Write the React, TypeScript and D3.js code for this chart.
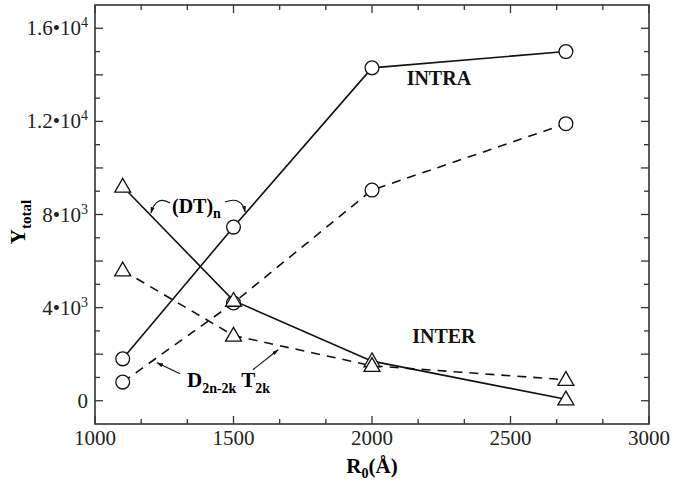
import React, { useEffect, useRef } from 'react'
import * as d3 from 'd3'

// R0 values (Å)
const r0 = [1100, 1500, 2000, 2700]
// INTRA, (DT)n  -> solid line, circles
const intraDT = [1800, 7460, 14300, 15000]
// INTRA, D2n-2k T2k -> dashed line, circles
const intraDT2k = [800, 4200, 9050, 11900]
// INTER, (DT)n -> solid line, triangles
const interDT = [9200, 4300, 1700, 60]
// INTER, D2n-2k T2k -> dashed line, triangles
const interDT2k = [5600, 2800, 1500, 900]

const xTicks = [1000, 1500, 2000, 2500, 3000]
const yTickLabels = [0, 4000, 8000, 12000, 16000]

const W = 673
const H = 484
const FONT = "'Liberation Serif', 'Times New Roman', serif"

const App = () => {
  const svgRef = useRef<SVGSVGElement>(null)

  useEffect(() => {
    const svg = d3.select(svgRef.current)
    svg.selectAll('*').remove()

    const left = 95, right = 649, top = 5, bottom = 424
    const x = d3.scaleLinear().domain([1000, 3000]).range([left, right])
    const y = d3.scaleLinear().domain([-1000, 17000]).range([bottom, top])

    const defs = svg.append('defs')
    defs.append('marker')
      .attr('id', 'arr')
      .attr('viewBox', '0 0 10 10')
      .attr('refX', 9).attr('refY', 5)
      .attr('markerWidth', 6).attr('markerHeight', 6)
      .attr('orient', 'auto')
      .append('path').attr('d', 'M0,2 L10,5 L0,8 Z').attr('fill', '#111')

    // frame
    svg.append('rect')
      .attr('x', left).attr('y', top)
      .attr('width', right - left).attr('height', bottom - top)
      .attr('fill', 'none').attr('stroke', '#333').attr('stroke-width', 1.6)

    const g = svg.append('g')

    // x ticks (bottom & top), majors every 500, minors at thirds
    const xMinor = d3.range(0, 13).map(i => 1000 + i * 500 / 3)
    xMinor.forEach((v, i) => {
      const len = i % 3 === 0 ? 8 : 5
      g.append('line').attr('x1', x(v)).attr('x2', x(v))
        .attr('y1', bottom).attr('y2', bottom - len)
        .attr('stroke', '#333').attr('stroke-width', 1.3)
      g.append('line').attr('x1', x(v)).attr('x2', x(v))
        .attr('y1', top).attr('y2', top + len)
        .attr('stroke', '#333').attr('stroke-width', 1.3)
    })
    // y ticks (left & right), majors every 2000, minors every 1000
    d3.range(0, 17).map(i => i * 1000).forEach(v => {
      const len = v % 2000 === 0 ? 8 : 5
      g.append('line').attr('y1', y(v)).attr('y2', y(v))
        .attr('x1', left).attr('x2', left + len)
        .attr('stroke', '#333').attr('stroke-width', 1.3)
      g.append('line').attr('y1', y(v)).attr('y2', y(v))
        .attr('x1', right).attr('x2', right - len)
        .attr('stroke', '#333').attr('stroke-width', 1.3)
    })

    // x tick labels
    g.selectAll('.xl').data(xTicks).join('text')
      .attr('x', d => x(d)).attr('y', bottom + 21)
      .attr('text-anchor', 'middle')
      .attr('font-family', FONT).attr('font-size', 21).attr('fill', '#222')
      .text(d => d)

    // y tick labels
    yTickLabels.forEach(v => {
      const t = g.append('text')
        .attr('x', left - 7).attr('y', y(v) + 7)
        .attr('text-anchor', 'end')
        .attr('font-family', FONT).attr('font-size', 21).attr('fill', '#222')
      if (v === 0) { t.text('0'); return }
      const exp = Math.floor(Math.log10(v))
      const mant = v / Math.pow(10, exp)
      t.append('tspan').text(`${mant % 1 === 0 ? mant : mant.toFixed(1)}•10`)
      t.append('tspan').attr('dy', -8).attr('font-size', 14).text(exp)
    })

    // axis titles
    const xt = svg.append('text')
      .attr('x', (left + right) / 2).attr('y', 473)
      .attr('text-anchor', 'middle')
      .attr('font-family', FONT).attr('font-weight', 'bold').attr('font-size', 21)
    xt.append('tspan').text('R')
    xt.append('tspan').attr('dy', 5).attr('font-size', 14).text('0')
    xt.append('tspan').attr('dy', -5).text('(Å)')

    const yt = svg.append('text')
      .attr('transform', `translate(25,222) rotate(-90)`)
      .attr('text-anchor', 'middle')
      .attr('font-family', FONT).attr('font-weight', 'bold').attr('font-size', 21)
    yt.append('tspan').text('Y')
    yt.append('tspan').attr('dy', 6).attr('font-size', 15).text('total')

    // series
    const series = [
      { vals: intraDT, dash: null, mark: 'circle' },
      { vals: intraDT2k, dash: '9,7', mark: 'circle' },
      { vals: interDT, dash: null, mark: 'tri' },
      { vals: interDT2k, dash: '9,7', mark: 'tri' },
    ]
    const line = d3.line<number>().x((_, i) => x(r0[i])).y(d => y(d))
    series.forEach(s => {
      svg.append('path')
        .attr('d', line(s.vals))
        .attr('fill', 'none').attr('stroke', '#111').attr('stroke-width', 1.6)
        .attr('stroke-dasharray', s.dash)
    })
    series.forEach(s => {
      const sym = d3.symbol().type(s.mark === 'circle' ? d3.symbolCircle : d3.symbolTriangle)
        .size(s.mark === 'circle' ? 150 : 110)
      svg.selectAll(null).data(s.vals).join('path')
        .attr('d', sym)
        .attr('transform', (d, i) => `translate(${x(r0[i])},${y(d) + (s.mark === 'tri' ? 1 : 0)})`)
        .attr('fill', 'white').attr('stroke', '#111').attr('stroke-width', 1.3)
    })

    // labels
    const lab = (xv: number, yv: number, txt: string) =>
      svg.append('text').attr('x', x(xv)).attr('y', y(yv))
        .attr('font-family', FONT).attr('font-weight', 'bold').attr('font-size', 20)
        .attr('fill', '#111').text(txt)
    lab(2125, 13560, 'INTRA')
    lab(2145, 2480, 'INTER')

    // (DT)n annotation
    const dt = svg.append('text').attr('x', x(1278)).attr('y', y(8065))
      .attr('font-family', FONT).attr('font-weight', 'bold').attr('font-size', 20)
    dt.append('tspan').text('(DT)')
    dt.append('tspan').attr('dy', 5).attr('font-size', 14).text('n')

    const curve = (a: number[], c: number[], b: number[]) =>
      `M${x(a[0])},${y(a[1])} Q${x(c[0])},${y(c[1])} ${x(b[0])},${y(b[1])}`
    svg.append('path').attr('d', curve([1271, 8494], [1222, 8850], [1202, 8065]))
      .attr('fill', 'none').attr('stroke', '#111').attr('stroke-width', 1.1)
      .attr('marker-end', 'url(#arr)')
    svg.append('path').attr('d', curve([1469, 8537], [1530, 8800], [1542, 8108]))
      .attr('fill', 'none').attr('stroke', '#111').attr('stroke-width', 1.1)
      .attr('marker-end', 'url(#arr)')

    // D2n-2k T2k annotation
    const dk = svg.append('text').attr('x', x(1332)).attr('y', y(600))
      .attr('font-family', FONT).attr('font-weight', 'bold').attr('font-size', 21)
    dk.append('tspan').text('D')
    dk.append('tspan').attr('dy', 6).attr('font-size', 14).text('2n-2k')
    dk.append('tspan').attr('dy', -6).text(' T')
    dk.append('tspan').attr('dy', 6).attr('font-size', 14).text('2k')

    const arrow = (a: number[], b: number[]) =>
      svg.append('line')
        .attr('x1', x(a[0])).attr('y1', y(a[1]))
        .attr('x2', x(b[0])).attr('y2', y(b[1]))
        .attr('stroke', '#111').attr('stroke-width', 1.1)
        .attr('marker-end', 'url(#arr)')
    arrow([1307, 1158], [1224, 1630])
    arrow([1570, 1330], [1661, 2188])
  }, [])

  return (
    <svg ref={svgRef} width={W} height={H}
      style={{ position: 'absolute', left: 0, top: 0, background: 'white' }} />
  )
}

export default App
